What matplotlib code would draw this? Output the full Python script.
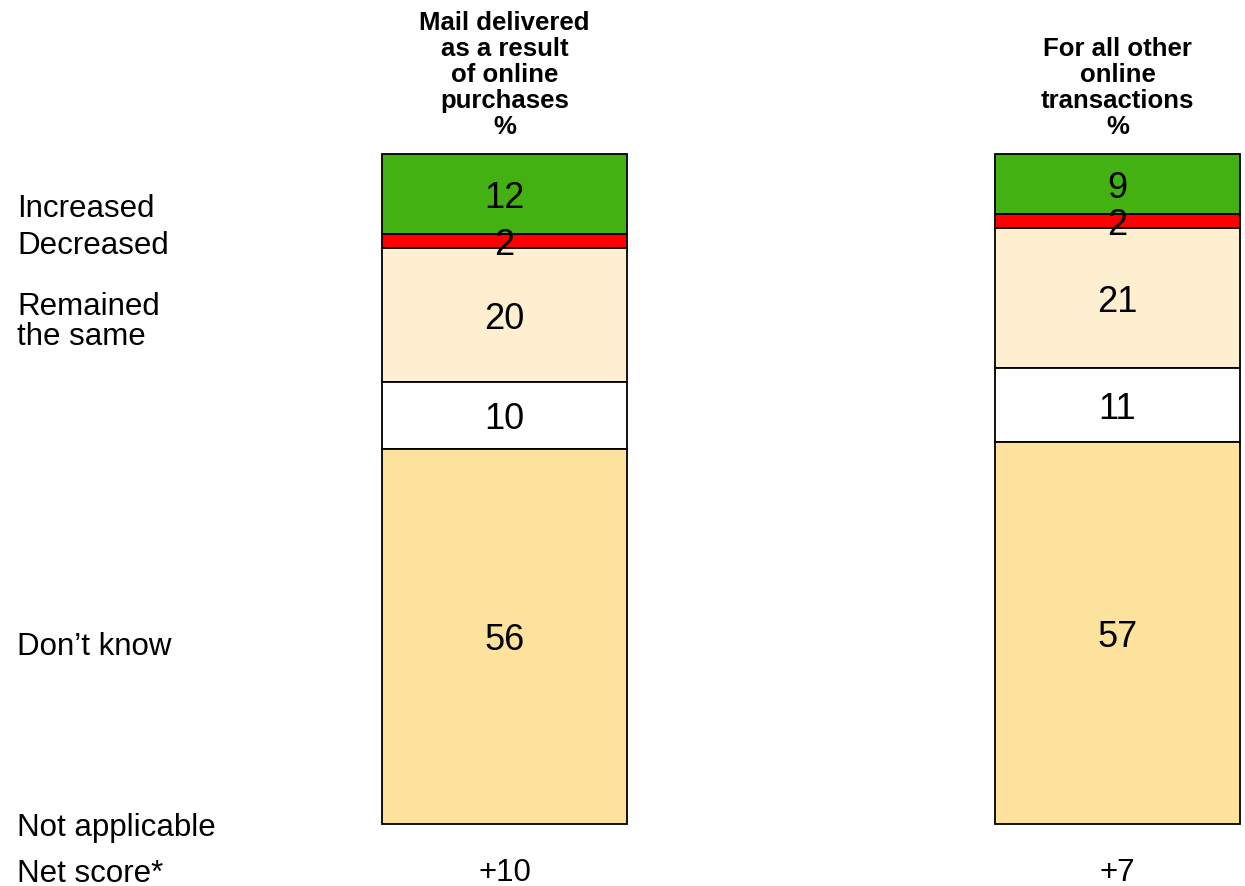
import matplotlib.pyplot as plt
import numpy as np

plt.rcParams['font.family'] = ['Liberation Sans', 'DejaVu Sans']

columns = ['Mail delivered\nas a result\nof online\npurchases\n%',
           'For all other\nonline\ntransactions\n%']
row_labels = ['Increased', 'Decreased', 'Remained\nthe same', "Don\u2019t know", 'Not applicable']
increased = [12, 9]
decreased = [2, 2]
same = [20, 21]
not_applicable = [10, 11]
dont_know = [56, 57]
net_score = ['+10', '+7']

colors = ['#43b111', '#ff0000', '#fdefd0', '#ffffff', '#fde29d']
series = [increased, decreased, same, not_applicable, dont_know]

fig = plt.figure(figsize=(12.45, 8.87), dpi=100)
ax = fig.add_axes([0, 62 / 887, 1, 670 / 887])
ax.set_xlim(-504.5 / 613, (1245 - 504.5) / 613)
ax.set_ylim(100, 0)
ax.axis('off')

x = np.arange(len(columns))
bottom = np.zeros(len(columns))
for vals, c in zip(series, colors):
    vals = np.array(vals, dtype=float)
    ax.bar(x, vals, bottom=bottom, width=0.4, color=c, edgecolor='black',
           linewidth=1.3, align='center', clip_on=False)
    for xi, b, v in zip(x, bottom, vals):
        ax.text(xi, b + v / 2 + 0.5, f'{v:g}', ha='center', va='center', fontsize=26)
    bottom += vals

# column headers
for xi, head in zip(x, columns):
    ax.text(xi, -2.4, head, ha='center', va='bottom', fontsize=18.5,
            fontweight='bold', linespacing=1.1)

# net score row
for xi, s in zip(x, net_score):
    ax.text(xi, 107.2, s, ha='center', va='center', fontsize=22.5)

# row labels down the left side
label_y = [209, 246, 322, 647, 828]
for lab, py in zip(row_labels, label_y):
    fig.text(17 / 1245, 1 - py / 887, lab, ha='left', va='center',
             fontsize=22.5, linespacing=1.02)
fig.text(17 / 1245, 1 - 874 / 887, 'Net score*', ha='left', va='center', fontsize=22.5)

fig.savefig('out.png', dpi=100)
